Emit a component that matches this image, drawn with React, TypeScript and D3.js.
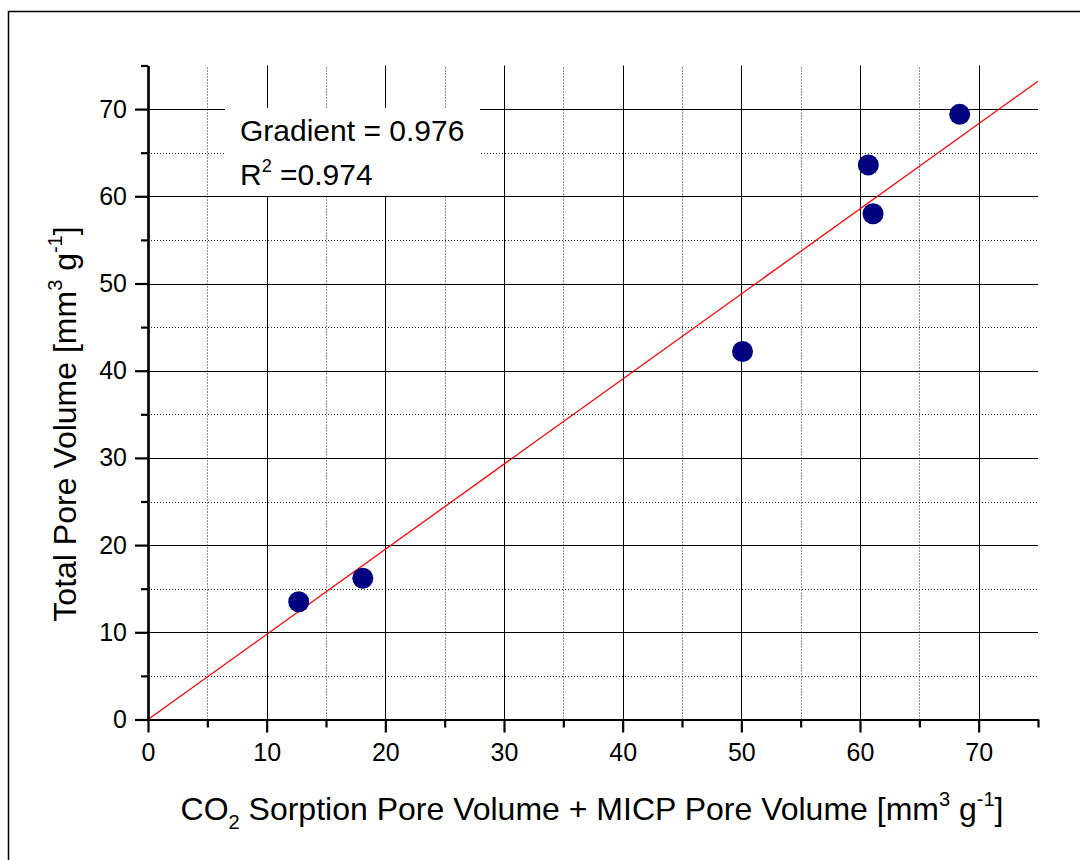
import React, { useEffect, useRef } from 'react';
import * as d3 from 'd3';

// measured values (x = CO2 sorption + MICP pore volume, y = total pore volume)
const xValues = [12.7, 18.1, 50.1, 60.7, 61.1, 68.4];
const yValues = [13.5, 16.2, 42.2, 63.6, 58.0, 69.4];
const gradient = 0.976;
const rSquared = 0.974;
const majorTicks = [0, 10, 20, 30, 40, 50, 60, 70];
const minorTicks = [5, 15, 25, 35, 45, 55, 65, 75];

const W = 1080;
const H = 860;
const FONT = '"Liberation Sans", Arial, sans-serif';

const App = () => {
    const ref = useRef<SVGSVGElement>(null);

    useEffect(() => {
        const svg = d3.select(ref.current);
        svg.selectAll('*').remove();

        const x = d3.scaleLinear().domain([0, 75]).range([148, 1038]);
        const y = d3.scaleLinear().domain([0, 75]).range([719.5, 65.5]);

        // outer frame
        svg.append('rect')
            .attr('x', 8.5).attr('y', 11.5)
            .attr('width', W).attr('height', H)
            .attr('fill', 'none').attr('stroke', '#000').attr('stroke-width', 1.5);

        const grid = svg.append('g');
        // minor grid (dotted)
        grid.selectAll('.vminor').data(minorTicks.filter(d => d < 75)).enter().append('line')
            .attr('x1', d => Math.round(x(d)) + 0.5).attr('x2', d => Math.round(x(d)) + 0.5)
            .attr('y1', y(0)).attr('y2', y(75))
            .attr('stroke', '#222').attr('stroke-dasharray', '1,2');
        grid.selectAll('.hminor').data(minorTicks.filter(d => d < 75)).enter().append('line')
            .attr('y1', d => Math.round(y(d)) + 0.5).attr('y2', d => Math.round(y(d)) + 0.5)
            .attr('x1', x(0)).attr('x2', x(75))
            .attr('stroke', '#222').attr('stroke-dasharray', '1,2');
        // major grid (solid)
        grid.selectAll('.vmajor').data(majorTicks.filter(d => d > 0)).enter().append('line')
            .attr('x1', d => Math.round(x(d)) + 0.5).attr('x2', d => Math.round(x(d)) + 0.5)
            .attr('y1', y(0)).attr('y2', y(75))
            .attr('stroke', '#000').attr('stroke-width', 1);
        grid.selectAll('.hmajor').data(majorTicks.filter(d => d > 0)).enter().append('line')
            .attr('y1', d => Math.round(y(d)) + 0.5).attr('y2', d => Math.round(y(d)) + 0.5)
            .attr('x1', x(0)).attr('x2', x(75))
            .attr('stroke', '#000').attr('stroke-width', 1);

        // annotation box
        svg.append('rect')
            .attr('x', 225).attr('y', 108)
            .attr('width', 255).attr('height', 88)
            .attr('fill', '#fff');
        svg.append('text')
            .attr('x', 240).attr('y', 141)
            .attr('font-family', FONT).attr('font-size', 30)
            .text('Gradient = ' + gradient);
        const r2 = svg.append('text')
            .attr('x', 240).attr('y', 185)
            .attr('font-family', FONT).attr('font-size', 30);
        r2.append('tspan').text('R');
        r2.append('tspan').attr('dy', -13).attr('font-size', 18).text('2');
        r2.append('tspan').attr('dy', 13).text(' =' + rSquared);

        // fit line through origin
        svg.append('line')
            .attr('x1', x(0)).attr('y1', y(0))
            .attr('x2', x(75)).attr('y2', y(75 * gradient))
            .attr('stroke', '#ff0000').attr('stroke-width', 1.3);

        // axes
        const styleAxis = (g: any) => {
            g.select('.domain').attr('stroke-width', 2.2);
            g.selectAll('.tick line').attr('stroke-width', 2.2);
            g.selectAll('text').attr('font-family', FONT).attr('font-size', 25).attr('fill', '#000');
        };
        svg.append('g').attr('transform', `translate(0,${y(0)})`)
            .call(d3.axisBottom(x).tickValues(minorTicks).tickSize(8).tickSizeOuter(0).tickFormat(() => ''))
            .call(styleAxis);
        svg.append('g').attr('transform', `translate(0,${y(0)})`)
            .call(d3.axisBottom(x).tickValues(majorTicks).tickSize(13).tickSizeOuter(0).tickPadding(11).tickFormat(d3.format('d')))
            .call(styleAxis);
        svg.append('g').attr('transform', `translate(${x(0)},0)`)
            .call(d3.axisLeft(y).tickValues(minorTicks).tickSize(7).tickSizeOuter(0).tickFormat(() => ''))
            .call(styleAxis);
        svg.append('g').attr('transform', `translate(${x(0)},0)`)
            .call(d3.axisLeft(y).tickValues(majorTicks).tickSize(13).tickSizeOuter(0).tickPadding(8).tickFormat(d3.format('d')))
            .call(styleAxis);

        // points
        svg.selectAll('.pt').data(xValues.map((v, i) => [v, yValues[i]])).enter().append('circle')
            .attr('cx', d => x(d[0])).attr('cy', d => y(d[1]))
            .attr('r', 10.5).attr('fill', '#000080');

        // axis titles
        const xt = svg.append('text')
            .attr('x', 592).attr('y', 820)
            .attr('text-anchor', 'middle')
            .attr('font-family', FONT).attr('font-size', 32);
        xt.append('tspan').text('CO');
        xt.append('tspan').attr('dy', 9).attr('font-size', 20).text('2');
        xt.append('tspan').attr('dy', -9).text(' Sorption Pore Volume + MICP Pore Volume [mm');
        xt.append('tspan').attr('dy', -14).attr('font-size', 20).text('3');
        xt.append('tspan').attr('dy', 14).text(' g');
        xt.append('tspan').attr('dy', -14).attr('font-size', 20).text('-1');
        xt.append('tspan').attr('dy', 14).text(']');

        const yt = svg.append('text')
            .attr('transform', 'translate(76,424) rotate(-90)')
            .attr('text-anchor', 'middle')
            .attr('font-family', FONT).attr('font-size', 32);
        yt.append('tspan').text('Total Pore Volume [mm');
        yt.append('tspan').attr('dy', -14).attr('font-size', 20).text('3');
        yt.append('tspan').attr('dy', 14).text(' g');
        yt.append('tspan').attr('dy', -14).attr('font-size', 20).text('-1');
        yt.append('tspan').attr('dy', 14).text(']');
    }, []);

    return (
        <div style={{ position: 'absolute', left: 0, top: 0, background: '#fff' }}>
            <svg ref={ref} width={W} height={H} style={{ display: 'block' }}></svg>
        </div>
    );
};

export default App;
